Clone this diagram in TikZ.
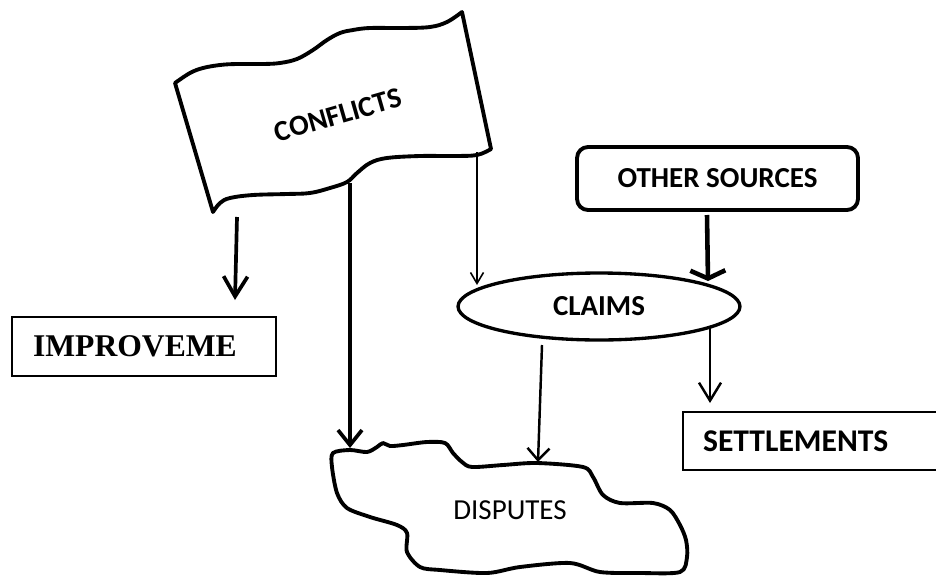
\documentclass[tikz,border=0pt]{standalone}
\usepackage{fontspec}
\setmainfont{Carlito}
\newfontfamily\timesfont{Liberation Serif}
\usetikzlibrary{arrows.meta,shapes.geometric}
\tikzset{
	lbl/.style={font=\fontsize{16.5}{19}\selectfont\bfseries},
	outline/.style={line width=2.2pt,line join=round},
	heavy/.style={line width=2.1pt},
	medium/.style={line width=1.4pt},
	light/.style={line width=0.9pt},
	tip/.style 2 args={-{Straight Barb[length=#1,width=#2]}}
}
\begin{document}
\begin{tikzpicture}[x=0.02cm,y=-0.02cm]
	\useasboundingbox (0,0) rectangle (936,575);
	\clip (0,0) rectangle (936,575);
	% flag with the conflicts
	\draw[outline,fill=white] plot[smooth,tension=0.6] coordinates {(175,83) (190,73) (203,68) (220,65) (237,64) (263,64) (280,63) (297,59) (313,50) (327,40) (340,33) (353,30) (370,28) (403,28) (430,27) (447,22) (462,12)}
		-- plot[smooth,tension=0.6] coordinates {(491,149) (477,155) (453,156) (420,156) (387,158) (370,163) (357,173) (347,182) (330,188) (310,193) (287,194) (253,195) (230,198) (220,203) (213,212)} -- cycle;
	\node[lbl,rotate=16] (conflicts) at (338,115) {CONFLICTS};
	\coordinate (cf-l) at (237,217);
	\coordinate (cf-m) at (350,183);
	\coordinate (cf-r) at (477,152);
	% disputes
	\draw[outline] plot[smooth cycle,tension=0.5] coordinates {(333,453) (350,450) (367,452) (377,447) (383,443) (390,446) (403,445) (427,442) (445,443) (453,453) (462,462) (472,467) (503,465) (537,463) (583,467) (593,477) (603,495) (620,503) (653,503) (670,510) (680,525) (686,540) (687,557) (680,572) (640,573) (600,572) (570,563) (520,567) (487,573) (440,570) (420,567) (407,552) (407,533) (397,525) (370,517) (347,508) (337,493) (332,467)};
	\node[font=\fontsize{16.5}{19}\selectfont] (disputes) at (510,510) {DISPUTES};
	\coordinate (dp-l) at (350,448);
	\coordinate (dp-r) at (538,462);
	% boxes
	\node[draw,line width=1pt,minimum width=5.28cm,minimum height=1.18cm,inner xsep=0.42cm,text width=4.44cm,align=left,font=\timesfont\fontsize{18}{20}\selectfont\bfseries] (improve) at (144,346.5) {IMPROVEME};
	\node[draw,line width=2.2pt,rounded corners=0.22cm,minimum width=5.62cm,minimum height=1.26cm,lbl] (others) at (717.5,178.5) {OTHER SOURCES};
	\node[draw,ellipse,line width=1.9pt,minimum width=5.64cm,minimum height=1.34cm,lbl] (claims) at (599,306.5) {CLAIMS};
	\node[draw,line width=1.2pt,anchor=west,minimum height=1.16cm,inner xsep=0.4cm,text width=6cm,align=left,font=\fontsize{18}{20}\selectfont\bfseries] (settle) at (682,441) {SETTLEMENTS};
	\coordinate (im-t) at (235,300);
	\coordinate (cl-t) at (477,285);
	\coordinate (cl-r) at (708,281);
	\coordinate (cl-b) at (542,345);
	\coordinate (cl-s) at (710,328);
	\coordinate (st-t) at (710,403);
	\coordinate (ot-b) at (707,215);
	% arrows
	\draw[heavy,tip={4mm}{4.8mm}] (cf-l) -- (im-t);
	\draw[heavy,tip={3mm}{4.8mm}] (cf-m) -- (dp-l);
	\draw[light,tip={2.2mm}{2.6mm}] (cf-r) -- (cl-t);
	\draw[heavy,line width=2.6pt,tip={1.6mm}{7mm}] (ot-b) -- (cl-r);
	\draw[medium,tip={2.4mm}{4.4mm}] (cl-b) -- (dp-r);
	\draw[medium,tip={3.6mm}{4.4mm}] (cl-s) -- (st-t);
\end{tikzpicture}
\end{document}
